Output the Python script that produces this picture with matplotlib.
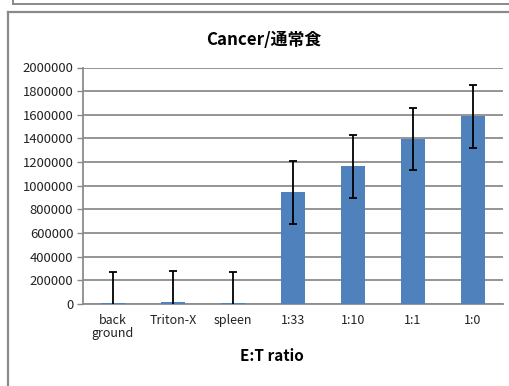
import matplotlib
matplotlib.use("Agg")
import matplotlib.pyplot as plt
from matplotlib.lines import Line2D
import numpy as np

plt.rcParams['font.family'] = ['Noto Sans CJK JP', 'DejaVu Sans']

categories = ["back\nground", "Triton-X", "spleen", "1:33", "1:10", "1:1", "1:0"]
values = [12000, 20000, 8000, 946000, 1163000, 1397000, 1586000]
errors = [262000, 260000, 266000, 267000, 263000, 264000, 264000]
yticks = [0, 200000, 400000, 600000, 800000, 1000000, 1200000, 1400000, 1600000, 1800000, 2000000]

W, H = 510, 386
fig = plt.figure(figsize=(W / 100, H / 100), dpi=100)
ax = fig.add_axes([83 / W, 1 - 304 / H, (503 - 83) / W, (304 - 67.5) / H])

x = np.arange(len(categories))
ax.bar(x, values, width=0.4, color="#4F81BD", zorder=3)
ax.errorbar(x, values, yerr=errors, fmt="none", ecolor="black", elinewidth=1.3,
            capsize=3, capthick=1.3, zorder=4)

ax.set_xlim(-0.5, len(categories) - 0.5)
ax.set_ylim(0, 2000000)
ax.set_yticks(yticks)
ax.set_yticklabels([str(v) for v in yticks], fontsize=9.4, color="#222222")
ax.set_xticks(x)
ax.set_xticklabels(categories, fontsize=9, color="#222222", linespacing=1.0)
ax.tick_params(axis="x", length=0, pad=7)
ax.tick_params(axis="y", length=4, width=1, color="#888888", pad=3)
ax.yaxis.grid(True, color="#8c8c8c", linewidth=1.3, zorder=0)
ax.set_axisbelow(True)
for s in ["top", "right"]:
    ax.spines[s].set_visible(False)
ax.spines["left"].set_color("#8c8c8c")
ax.spines["left"].set_linewidth(1.3)
ax.spines["bottom"].set_color("#8c8c8c")
ax.spines["bottom"].set_linewidth(1.3)

fig.text(272 / W, 1 - 356 / H, "E:T ratio", fontsize=11, fontweight="bold",
         ha="center", va="center")
fig.text(264 / W, 1 - 40 / H, "Cancer/通常食", fontsize=12.2, fontweight="bold",
         ha="center", va="center")

# chart frames
fcol = "#8a8a8a"
fig.add_artist(Line2D([8 / W, 8 / W], [0, 1 - 12 / H], color=fcol, linewidth=1.6))
fig.add_artist(Line2D([8 / W, 1], [1 - 12 / H, 1 - 12 / H], color=fcol, linewidth=1.6))
fig.add_artist(Line2D([13 / W, 13 / W], [1 - 4 / H, 1], color=fcol, linewidth=1.4))
fig.add_artist(Line2D([13 / W, 1], [1 - 4 / H, 1 - 4 / H], color=fcol, linewidth=1.4))

fig.savefig("out.png", dpi=100)
